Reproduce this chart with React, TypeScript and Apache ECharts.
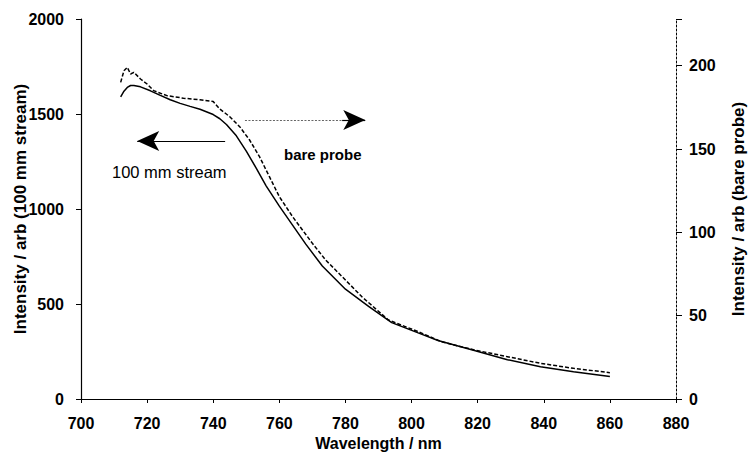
import React, { useEffect, useRef } from "react";
import * as echarts from "echarts";

const xTicks = [700, 720, 740, 760, 780, 800, 820, 840, 860, 880];

// 100 mm stream (left axis)
const streamWavelength = [712, 713, 714, 715, 716, 718, 721, 724, 727, 730, 733, 736, 740, 742, 744, 747, 750, 753, 756, 760, 764, 768, 773, 780, 787, 794, 802, 808, 819, 829, 839, 849, 860];
const streamIntensity = [1590, 1620, 1640, 1650, 1650, 1643, 1622, 1598, 1575, 1556, 1540, 1525, 1497, 1475, 1445, 1385, 1305, 1215, 1122, 1015, 915, 815, 700, 578, 488, 402, 348, 308, 255, 207, 170, 144, 118];

// bare probe (right axis)
const probeWavelength = [712, 713, 714, 715, 716, 718, 720, 722, 726, 731, 736, 740, 742, 745, 748, 751, 754, 757, 760, 764, 770, 774, 780, 785, 793, 802, 809, 819, 829, 839, 849, 860];
const probeIntensity = [190, 197, 199, 195, 196, 192, 189, 185, 182, 180.5, 179.5, 178.5, 174, 169.4, 163.4, 155.4, 145.4, 133.4, 121.4, 109.4, 93.4, 83.4, 71.4, 61.3, 47.4, 40.4, 34.4, 29.4, 25.4, 21.4, 18.4, 15.8];

const FONT = "'Liberation Sans', Arial, sans-serif";

export default function App() {
  const ref = useRef<HTMLDivElement>(null);
  useEffect(() => {
    if (!ref.current) return;
    const chart = echarts.init(ref.current, null, { renderer: "svg" });
    const tickLabel = { color: "#000", fontFamily: FONT, fontWeight: "bold" as const, fontSize: 16 };
    chart.setOption({
      animation: false,
      backgroundColor: "#fff",
      grid: { left: 81, right: 79, top: 19, bottom: 54, containLabel: false, outerBoundsMode: "none" },
      xAxis: [
        {
          type: "value",
          min: xTicks[0],
          max: xTicks[xTicks.length - 1],
          interval: 20,
          name: "Wavelength / nm",
          nameLocation: "middle",
          nameGap: 36,
          nameMoveOverlap: false,
          nameTextStyle: { color: "#000", fontFamily: FONT, fontWeight: "bold", fontSize: 16 },
          axisLine: { lineStyle: { color: "#000", width: 1.2 } },
          axisTick: { show: true, length: 4, lineStyle: { color: "#000" } },
          axisLabel: { ...tickLabel, margin: 16, formatter: (v: number) => String(v) },
          splitLine: { show: false },
        },
        {
          type: "value",
          position: "top",
          min: 700,
          max: 880,
          axisLine: { show: true, lineStyle: { color: "#000", width: 1.2 } },
          axisTick: { show: false },
          axisLabel: { show: false },
          splitLine: { show: false },
        },
      ],
      yAxis: [
        {
          type: "value",
          min: 0,
          max: 2000,
          interval: 500,
          name: "Intensity / arb (100 mm stream)",
          nameLocation: "middle",
          nameGap: 52,
          nameMoveOverlap: false,
          nameTextStyle: { color: "#000", fontFamily: FONT, fontWeight: "bold", fontSize: 17 },
          axisLine: { show: true, lineStyle: { color: "#000", width: 1.2 } },
          axisTick: { show: true, length: 5, lineStyle: { color: "#000" } },
          axisLabel: { ...tickLabel, margin: 17, formatter: (v: number) => String(v) },
          splitLine: { show: false },
        },
        {
          type: "value",
          position: "right",
          min: 0,
          max: 228,
          interval: 50,
          name: "Intensity / arb (bare probe)",
          nameLocation: "middle",
          nameGap: 54,
          nameMoveOverlap: false,
          nameRotate: 90,
          nameTextStyle: { color: "#000", fontFamily: FONT, fontWeight: "bold", fontSize: 17 },
          axisLine: { show: true, lineStyle: { color: "#000", width: 1, type: [2, 2] } },
          axisTick: { show: true, length: 6, lineStyle: { color: "#000" } },
          axisLabel: {
            ...tickLabel,
            margin: 13,
            formatter: (v: number) => (v % 50 === 0 ? String(v) : ""),
          },
          splitLine: { show: false },
        },
      ],
      series: [
        {
          name: "100 mm stream",
          type: "line",
          xAxisIndex: 0,
          yAxisIndex: 0,
          showSymbol: false,
          data: streamWavelength.map((w, i) => [w, streamIntensity[i]]),
          lineStyle: { color: "#000", width: 1.5 },
          markLine: {
            silent: true,
            animation: false,
            label: { show: false },
            data: [
              [
                { coord: [743.6, 1358], symbol: "none" },
                { coord: [717, 1358], symbol: "arrow", symbolSize: [15, 22] },
              ],
              [
                { coord: [749.6, 1468], symbol: "none", lineStyle: { color: "#666", width: 1, type: [2, 1.5] } },
                { coord: [782, 1468], symbol: "none" },
              ],
              [
                { coord: [779, 1468], symbol: "none" },
                { coord: [786, 1468], symbol: "arrow", symbolSize: [15, 22] },
              ],
            ],
            lineStyle: { color: "#000", width: 1.2, type: "solid" },
          },
        },
        {
          name: "bare probe",
          type: "line",
          xAxisIndex: 0,
          yAxisIndex: 1,
          showSymbol: false,
          data: probeWavelength.map((w, i) => [w, probeIntensity[i]]),
          lineStyle: { color: "#000", width: 1.5, type: [4, 2] },
        },
      ],
      graphic: [
        {
          type: "text",
          left: 112,
          top: 163,
          style: { text: "100 mm stream", fill: "#000", font: `16.5px ${FONT}` },
        },
        {
          type: "text",
          left: 284,
          top: 147,
          style: { text: "bare probe", fill: "#000", font: `bold 15px ${FONT}` },
        },
      ],
    });
    return () => chart.dispose();
  }, []);
  return <div ref={ref} style={{ position: "fixed", left: 0, top: 0, width: 755, height: 453 }} />;
}
